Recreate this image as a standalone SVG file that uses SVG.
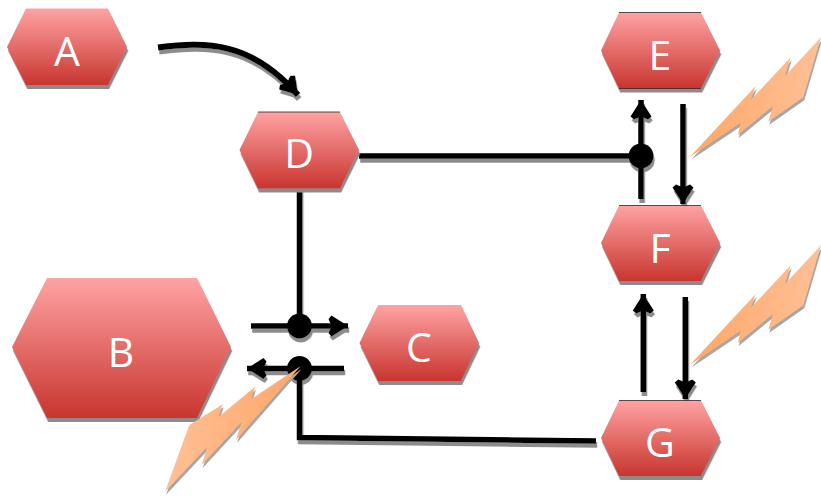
<svg xmlns="http://www.w3.org/2000/svg" width="821" height="496" viewBox="0 0 821 496">
<style>
.hex{fill:url(#hexGrad)}
.edge{stroke:#3a2020;stroke-width:.8}
.lab{font-family:"Open Sans","Noto Sans",sans-serif;font-size:41px;fill:#fff;text-anchor:middle}
.ln{fill:none;stroke:#000;stroke-width:5.5}
.dot{fill:#000}
</style>
<defs>
<linearGradient id="hexGrad" x1="0" y1="0" x2="0" y2="1"><stop offset="0" stop-color="#ffa3a3"/><stop offset="1" stop-color="#c8352f"/></linearGradient>
<linearGradient id="boltGrad" gradientUnits="userSpaceOnUse" x1="690" y1="0" x2="821" y2="0"><stop offset="0" stop-color="#ffa768"/><stop offset="1" stop-color="#ffc096"/></linearGradient>
<linearGradient id="boltGrad2" gradientUnits="userSpaceOnUse" x1="300" y1="0" x2="165" y2="0"><stop offset="0" stop-color="#ffa768"/><stop offset="1" stop-color="#ffc096"/></linearGradient>
<filter id="sh" filterUnits="userSpaceOnUse" x="0" y="0" width="821" height="496"><feDropShadow dx="1.2" dy="4" stdDeviation="0.4" flood-color="#8c8c8c"/></filter>
<filter id="shb" filterUnits="userSpaceOnUse" x="0" y="0" width="821" height="496"><feDropShadow dx="1" dy="3" stdDeviation="0.4" flood-color="#a6a6a6"/></filter>
<marker id="head" markerUnits="userSpaceOnUse" markerWidth="24" markerHeight="26" refX="20" refY="13" orient="auto" viewBox="0 0 24 26"><path d="M20 13L3.500 2.500L0.500 6L3.500 13L0.500 20L3.500 23.500Z" fill="#000"/></marker>
<polygon id="bolt" points="690,156.7 755.7,86 750.7,100 790.7,57.3 785,76 821,37.3 803.3,97.3 768.3,121.7 773,106 737.7,135 740.7,122.7"/>
</defs>
<g id="connectors" filter="url(#sh)">
<path class="ln" style="stroke-width:6" d="M158 47.500C205 42 250 40 298 95" marker-end="url(#head)"/>
<path class="ln" d="M359 156H641"/>
<path class="ln" d="M641 199V100" marker-end="url(#head)"/>
<path class="ln" d="M683 104V204" marker-end="url(#head)"/>
<path class="ln" d="M643.300 392V294" marker-end="url(#head)"/>
<path class="ln" d="M685.300 297V399" marker-end="url(#head)"/>
<path class="ln" d="M299.500 188V326"/>
<path class="ln" d="M251 326H348" marker-end="url(#head)"/>
<path class="ln" d="M344 368.500H247" marker-end="url(#head)"/>
<path class="ln" d="M299.500 368.500V437.500L596 441"/>
<circle class="dot" cx="641" cy="156" r="12.500"/>
<circle class="dot" cx="299.500" cy="326" r="12.500"/>
<circle class="dot" cx="299.500" cy="368.500" r="12.500"/>
</g>
<g id="node-A"><polygon class="hex" filter="url(#sh)" points="7,47 26,8.500 108,8.500 127,47 108,85 26,85"/><text class="lab" x="67" y="66">A</text></g>
<g id="node-D"><polygon class="hex" filter="url(#sh)" points="239.500,150 258,112 340,112 359,150 340,188.500 258,188.500"/><line class="edge" x1="258" y1="112" x2="340" y2="112"/><text class="lab" x="299" y="168">D</text></g>
<g id="node-B"><polygon class="hex" filter="url(#sh)" points="12,347 47,278 197,278 231,347 197,418 47,418"/><text class="lab" x="121" y="367">B</text></g>
<g id="node-C"><polygon class="hex" filter="url(#sh)" points="359.500,343 378,305 461,305 479,343 461,381 378,381"/><text class="lab" x="419" y="362">C</text></g>
<g id="node-E"><polygon class="hex" filter="url(#sh)" points="601,50.500 619,12.500 701,12.500 720,50.500 701,88.500 619,88.500"/><line class="edge" x1="619" y1="12.500" x2="701" y2="12.500"/><line class="edge" x1="619" y1="88.500" x2="701" y2="88.500"/><text class="lab" x="660" y="70">E</text></g>
<g id="node-F"><polygon class="hex" filter="url(#sh)" points="601,243 619,205.500 701,205.500 720,243 701,281 619,281"/><line class="edge" x1="619" y1="205.500" x2="701" y2="205.500"/><text class="lab" x="660" y="263">F</text></g>
<g id="node-G"><polygon class="hex" filter="url(#sh)" points="601,438 619,400.500 701,400.500 720,438 701,476 619,476"/><line class="edge" x1="619" y1="400.500" x2="701" y2="400.500"/><text class="lab" x="660" y="457">G</text></g>
<g id="bolts">
<use href="#bolt" fill="url(#boltGrad)" filter="url(#shb)"/>
<use href="#bolt" y="208" fill="url(#boltGrad)" filter="url(#shb)"/>
<polygon fill="url(#boltGrad2)" filter="url(#shb)" points="300.700,366 236,440 241.700,421.700 201.700,465 207.300,446.700 165,491.700 189.300,425 222.700,404.300 218.300,417.300 255,386.700 251,399.300"/>
</g>
</svg>
